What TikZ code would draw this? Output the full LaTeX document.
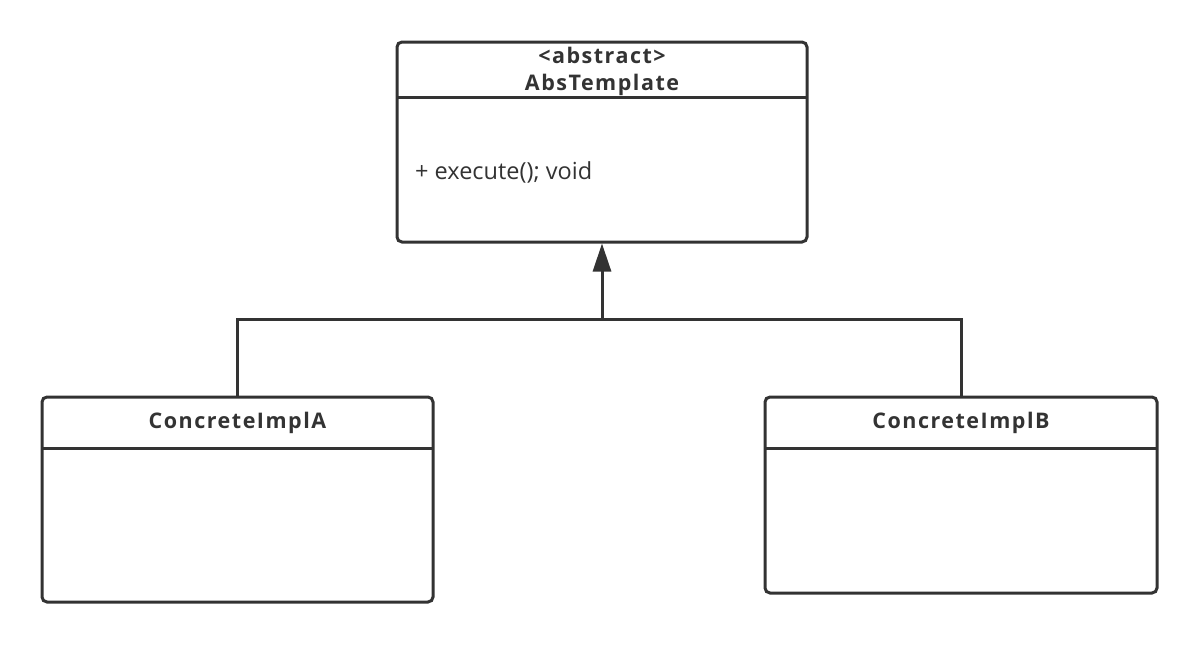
\documentclass[tikz,border=0pt]{standalone}
\usepackage{fontspec}
\setmainfont{Open Sans}
\newfontfamily\titlefont[LetterSpace=7]{Open Sans}
\usetikzlibrary{arrows.meta}
\definecolor{ink}{HTML}{333333}
\tikzset{
  umlbox/.style={draw=ink, line width=3pt, rounded corners=5pt, fill=white, inner sep=0pt},
  divider/.style={draw=ink, line width=3pt},
  conn/.style={draw=ink, line width=3pt},
  title/.style={text=ink, font=\titlefont\bfseries\fontsize{21.5}{27}\selectfont, align=center, inner sep=0pt},
  member/.style={text=ink, font=\fontsize{23.5}{28}\selectfont, anchor=west, inner sep=0pt}
}
\begin{document}
\begin{tikzpicture}[x=1pt,y=-1pt]
\useasboundingbox (0,0) rectangle (1200,645);
% AbsTemplate
\node[umlbox, minimum width=410, minimum height=200] (abs) at (602,142) {};
\draw[divider] (397,97) -- (807,97);
\node[title] (absname) at (602,71) {<abstract>\\AbsTemplate};
\node[member] (absm) at (415,172) {+ execute(); void};
% ConcreteImplA
\node[umlbox, minimum width=391, minimum height=205] (ca) at (237.5,499.5) {};
\draw[divider] (42,448) -- (433,448);
\node[title] (caname) at (237.5,423) {ConcreteImplA};
% ConcreteImplB
\node[umlbox, minimum width=392, minimum height=196] (cb) at (961,495) {};
\draw[divider] (765,448) -- (1157,448);
\node[title] (cbname) at (961,423) {ConcreteImplB};
% generalization
\coordinate (j) at (602,319);
\draw[conn] (ca.north) |- (j) -| (cb.north);
\draw[conn, -{Triangle[length=28pt,width=18pt]}] (j) -- (abs.south);
\end{tikzpicture}
\end{document}
